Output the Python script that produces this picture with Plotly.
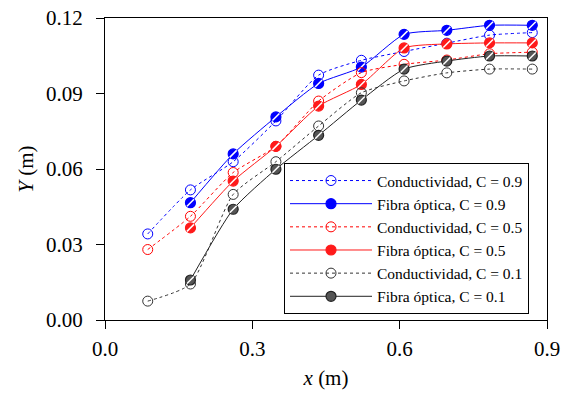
import plotly.graph_objects as go

x = [0.087, 0.174, 0.261, 0.348, 0.435, 0.522, 0.609, 0.696, 0.783, 0.870]
x_fib = [0.174, 0.261, 0.348, 0.435, 0.522, 0.609, 0.696, 0.783, 0.870]

cond_09 = [0.0342, 0.0517, 0.0629, 0.0791, 0.0973, 0.1032, 0.1067, 0.1100, 0.1132, 0.1142]
fib_09 = [0.0466, 0.0660, 0.0807, 0.0940, 0.1005, 0.1135, 0.1151, 0.1171, 0.1171]
cond_05 = [0.0280, 0.0412, 0.0586, 0.0690, 0.0870, 0.0983, 0.1016, 0.1033, 0.1058, 0.1064]
fib_05 = [0.0366, 0.0552, 0.0690, 0.0850, 0.0936, 0.1081, 0.1097, 0.1101, 0.1101]
cond_01 = [0.0075, 0.0143, 0.0499, 0.0629, 0.0771, 0.0903, 0.0950, 0.0982, 0.0997, 0.0997]
fib_01 = [0.0159, 0.0440, 0.0599, 0.0734, 0.0874, 0.0997, 0.1029, 0.1049, 0.1049]

names = ["Conductividad, C = 0.9", "Fibra óptica, C = 0.9",
         "Conductividad, C = 0.5", "Fibra óptica, C = 0.5",
         "Conductividad, C = 0.1", "Fibra óptica, C = 0.1"]

FONT = "Liberation Serif"
fig = go.Figure()

series = [
    (x, cond_09, names[0], "#0000FF", False),
    (x_fib, fib_09, names[1], "#0000FF", True),
    (x, cond_05, names[2], "#FF0000", False),
    (x_fib, fib_05, names[3], "#FF1A1A", True),
    (x, cond_01, names[4], "#333333", False),
    (x_fib, fib_01, names[5], "#222222", True),
]

for xs, ys, nm, col, filled in series:
    if filled:
        fig.add_trace(go.Scatter(
            x=xs, y=ys, name=nm, mode="lines+markers",
            line=dict(color=col, width=1, shape="spline", smoothing=0.6),
            marker=dict(symbol="circle", size=10, color=col if col != "#222222" else "#555555",
                        line=dict(color=col, width=1.2)),
        ))
        fig.add_trace(go.Scatter(
            x=xs, y=ys, mode="markers", showlegend=False, hoverinfo="skip",
            marker=dict(symbol="line-ne", size=7, color="white",
                        line=dict(color="white", width=1.5)),
        ))
    else:
        fig.add_trace(go.Scatter(
            x=xs, y=ys, name=nm, mode="lines+markers",
            line=dict(color=col, width=1, dash="dot", shape="spline", smoothing=0.6),
            marker=dict(symbol="circle-open", size=10, color=col,
                        line=dict(color=col, width=1)),
        ))

axis_common = dict(
    showline=True, linecolor="black", linewidth=1.2, mirror=True,
    ticks="outside", ticklen=8, tickcolor="black", tickwidth=1,
    showgrid=False, zeroline=False, automargin=False,
    ticklabeloverflow="allow",
    tickfont=dict(family=FONT, size=21, color="black"),
)

fig.update_xaxes(range=[0, 0.9], tickvals=[0.0, 0.3, 0.6, 0.9], tickformat=".1f",
                 ticklabelstandoff=2,
                 title=dict(text="<i>x</i> (m)", font=dict(family=FONT, size=21, color="black"),
                            standoff=10),
                 **axis_common)
fig.update_yaxes(range=[0, 0.12], tickvals=[0.0, 0.03, 0.06, 0.09, 0.12], tickformat=".2f",
                 ticklabelstandoff=9,
                 title=dict(text="<i>Y</i> (m)", font=dict(family=FONT, size=21, color="black"),
                            standoff=6),
                 **axis_common)

fig.update_layout(
    width=570, height=399,
    margin=dict(l=105, r=23, t=18, b=79),
    plot_bgcolor="white", paper_bgcolor="white",
    font=dict(family=FONT, color="black"),
    legend=dict(
        x=0.405, y=0.02, xanchor="left", yanchor="bottom",
        bgcolor="white", bordercolor="black", borderwidth=1,
        font=dict(family=FONT, size=15.5, color="black"),
        tracegroupgap=0, itemwidth=82,
    ),
)

fig.write_html("out.html",
               config={"displayModeBar": False},
               post_script="document.body.style.margin='0';document.body.style.overflow='hidden';")
